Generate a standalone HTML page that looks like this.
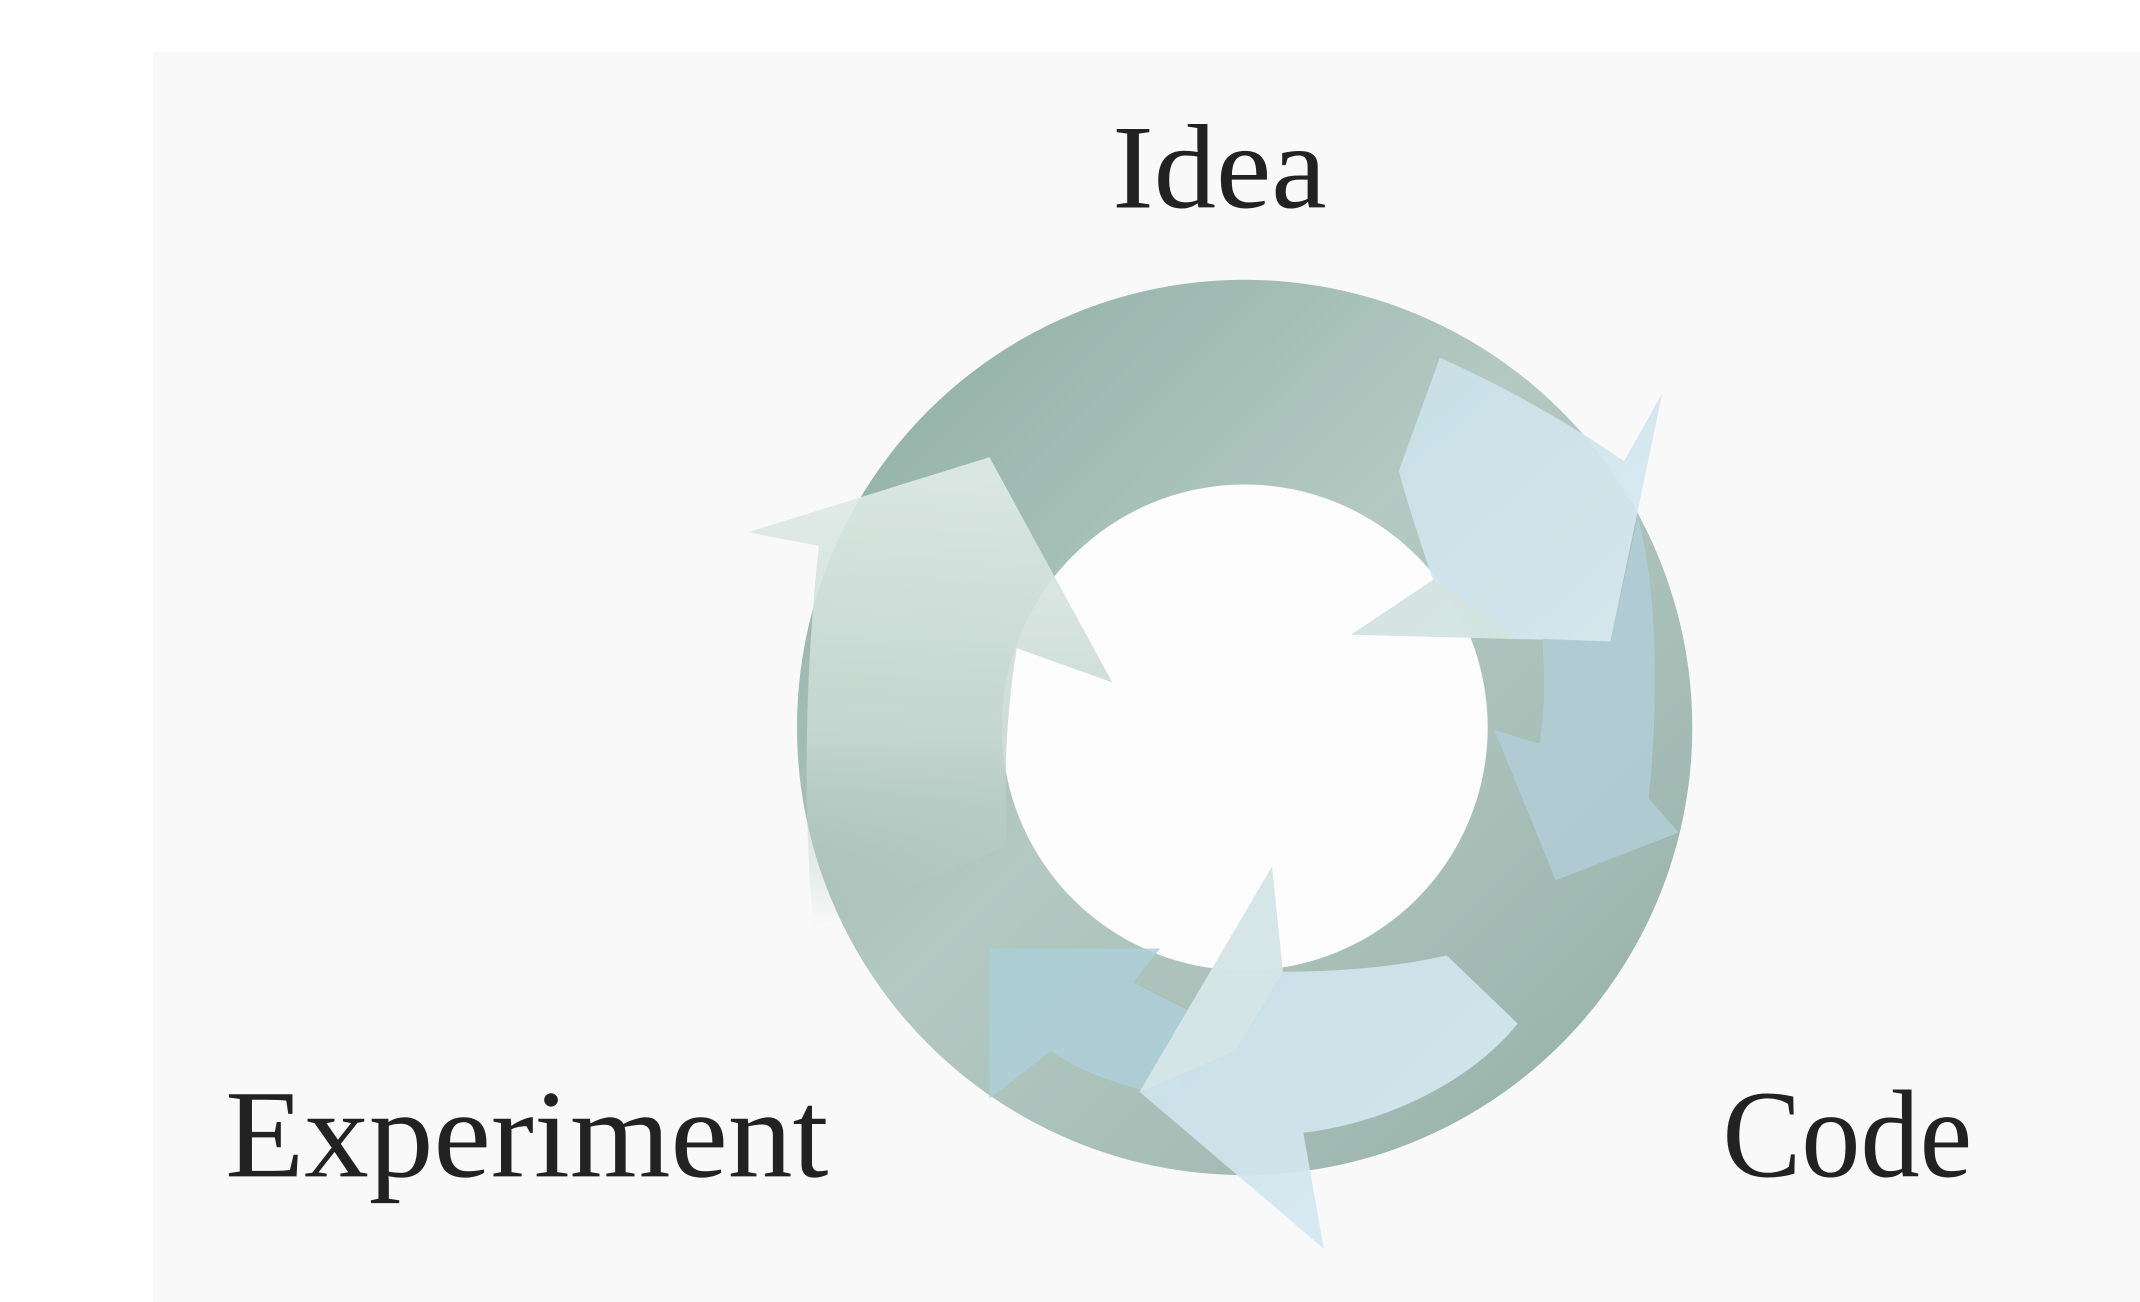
<!DOCTYPE html>
<html><head><meta charset="utf-8"><style>
html,body{margin:0;padding:0;background:#fff;width:2140px;height:1302px;overflow:hidden}
svg{display:block}
</style></head><body>
<svg width="2140" height="1302" viewBox="0 0 1568 954" preserveAspectRatio="none" xmlns="http://www.w3.org/2000/svg">
<defs>
<linearGradient id="ring" x1="0" y1="0" x2="1" y2="1">
<stop offset="0" stop-color="#8aaba1"/>
<stop offset="0.45" stop-color="#b3c9c2"/>
<stop offset="0.7" stop-color="#a7beb7"/>
<stop offset="1" stop-color="#90ada4"/>
</linearGradient>
<linearGradient id="lt" x1="0" y1="0" x2="0" y2="1">
<stop offset="0" stop-color="#e2ece8"/>
<stop offset="0.6" stop-color="#c6d8d1"/>
<stop offset="1" stop-color="#b0c6bf" stop-opacity="0"/>
</linearGradient>
<linearGradient id="bl" x1="0" y1="0" x2="1" y2="1">
<stop offset="0" stop-color="#c9e0e8"/>
<stop offset="1" stop-color="#d8eaf2"/>
</linearGradient>
</defs>
<rect x="0" y="0" width="1568" height="954" fill="#ffffff"/>
<rect x="112" y="38" width="1456" height="916" fill="#f9f9f9"/>
<circle cx="912" cy="533" r="178" fill="#fdfdfd"/>
<path fill-rule="evenodd" fill="url(#ring)" d="M912,205 A328,328 0 1,1 911.9,205 Z M912,355 A178,178 0 1,0 912.1,355 Z"/>
<!-- left arrow body + head -->
<path fill="url(#lt)" opacity="0.9" d="M596,680 C588,590 590,490 600,400 L548,390 L725,335 L815,500 L745,475 C738,520 735,560 738,620 Z"/>
<!-- top-right arrow -->
<path fill="url(#bl)" opacity="0.92" d="M1055,262 C1100,282 1150,310 1190,338 L1218,288 L1180,470 L990,465 L1050,425 C1040,395 1030,365 1025,345 Z"/>
<path fill="#d5e3de" opacity="0.8" d="M990,465 L1050,425 C1075,440 1095,455 1110,468 Z"/>
<!-- right small arrow -->
<path fill="#b1ced6" opacity="0.85" d="M1130,468 L1180,470 L1200,380 C1215,430 1215,520 1208,585 L1230,610 L1140,645 L1095,535 L1128,545 C1132,520 1132,495 1130,468 Z"/>
<!-- bottom-left blue -->
<path fill="#aecfd9" opacity="0.85" d="M725,695 L850,695 L830,720 C850,730 870,740 880,745 L860,805 C820,795 790,785 770,770 L725,805 Z"/>
<!-- bottom arrow -->
<path fill="url(#bl)" opacity="0.92" d="M1060,700 L1112,750 C1080,790 1020,822 955,830 L970,915 L835,800 L932,635 L940,712 C985,712 1025,708 1060,700 Z"/>
<path fill="#dbe8e4" opacity="0.6" d="M835,800 L932,635 L940,712 L905,770 Z"/>
<g font-family="'Liberation Serif', serif" fill="#222">
<text x="815" y="152" font-size="88" textLength="157" lengthAdjust="spacingAndGlyphs">Idea</text>
<text x="165" y="862" font-size="92" textLength="442" lengthAdjust="spacingAndGlyphs">Experiment</text>
<text x="1262" y="862" font-size="92" textLength="183" lengthAdjust="spacingAndGlyphs">Code</text>
</g>
</svg>
</body></html>
